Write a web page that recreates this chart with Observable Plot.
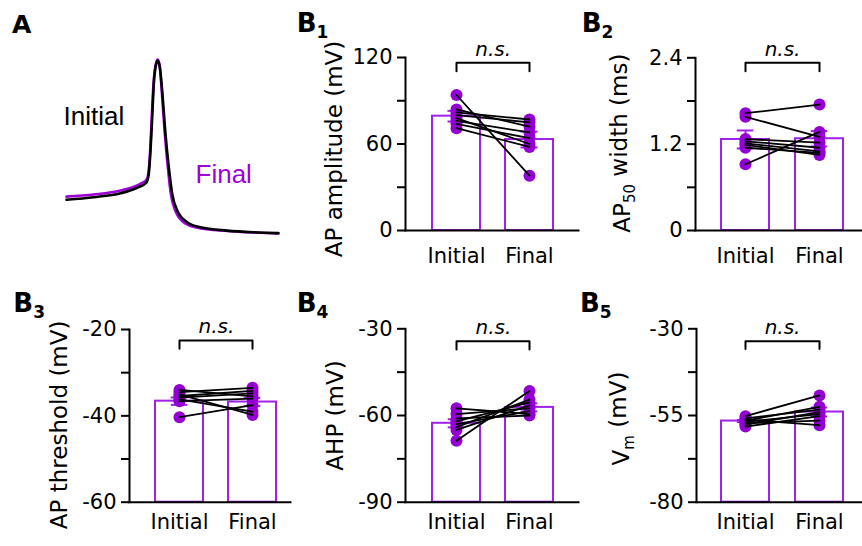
<!DOCTYPE html>
<html><head><meta charset="utf-8">
<script src="https://cdn.jsdelivr.net/npm/d3@7"></script>
<script src="https://cdn.jsdelivr.net/npm/@observablehq/plot@0.6"></script>
<style>
body{margin:0;background:#fff;}
#fig{position:relative;width:862px;height:546px;overflow:hidden;background:#fff;}
.panel{position:absolute;}
.lab{position:absolute;font-family:"DejaVu Sans";font-weight:bold;font-size:26px;line-height:26px;color:#000;white-space:nowrap;}
.lab sub{font-size:17px;vertical-align:-6px;line-height:0;}
</style></head><body><div id="fig"></div>
<script>
const conditions = ["Initial", "Final"];

// Panel A: representative AP traces (time in ms, voltage in mV)
const aTimeInitial = [0,2.55,5.05,6.6,7.48,7.69,7.85,8.01,8.16,8.35,8.53,8.72,8.94,9.25,9.56,9.88,10.35,11.28,12.52,15.02,17.5,19.8];
const aVoltInitial = [-46.3,-45.1,-43.2,-40.6,-38.0,-34.0,-22.9,-7.0,8.9,17.6,20.0,16.8,5.7,-14.9,-30.8,-43.5,-51.4,-57.0,-59.4,-61.0,-61.8,-62.2];
const aTimeFinal = [0,2.55,5.05,6.9,7.48,7.66,7.82,7.97,8.13,8.32,8.53,8.72,8.9,9.19,9.47,9.75,10.16,10.93,12.15,15.02,17.5,19.8];
const aVoltFinal = [-44.8,-43.8,-41.9,-38.7,-36.8,-33.3,-22.9,-7.0,8.9,17.6,20.5,17.1,5.7,-14.9,-30.8,-43.5,-51.4,-57.0,-59.5,-61.2,-61.9,-62.4];
const aLabelTime = [-0.28, 12.06];
const aLabelVolt = [-6.8, -34.3];

// B1 AP amplitude (mV)
const b1Initial = [94, 84, 82, 80, 78, 76, 74, 71];
const b1Final   = [38, 72, 77, 75, 60, 68, 64, 58];
const b1Mean = [79.3, 63.1], b1Sem = [3.7, 5.5];
const b1Ticks = [0, 30, 60, 90, 120], b1Labels = [0, 60, 120];
const b1Bracket = [116.3, 110.5];

// B2 AP50 width (ms)
const b2Initial = [1.63, 1.58, 1.27, 1.24, 1.21, 1.19, 1.15, 0.92];
const b2Final   = [1.75, 1.30, 1.22, 1.15, 1.10, 1.05, 1.08, 1.37];
const b2Mean = [1.265, 1.275], b2Sem = [0.125, 0.107];
const b2Ticks = [0, 0.6, 1.2, 1.8, 2.4], b2Labels = [0, 1.2, 2.4];
const b2Bracket = [2.33, 2.214];

// B3 AP threshold (mV)
const b3Initial = [-34.0, -34.5, -35.0, -35.4, -35.8, -36.2, -36.6, -40.3];
const b3Final   = [-35.5, -33.5, -39.8, -34.2, -34.8, -39.0, -36.0, -37.5];
const b3Mean = [-36.6, -36.8], b3Sem = [0.85, 0.95];
const b3Ticks = [-60, -50, -40, -30, -20], b3Labels = [-60, -40, -20];
const b3Bracket = [-22.55, -24.47];

// B4 AHP (mV)
const b4Initial = [-57.5, -59.5, -61, -62, -63, -64, -65, -68.7];
const b4Final   = [-59.5, -57.5, -60, -55.5, -58.5, -54.5, -56.5, -51.5];
const b4Mean = [-62.7, -57.2], b4Sem = [1.4, 1.4];
const b4Ticks = [-90, -75, -60, -45, -30], b4Labels = [-90, -60, -30];
const b4Bracket = [-34.3, -37.2];

// B5 Vm (mV)
const b5Initial = [-55.2, -55.8, -56.2, -56.5, -56.8, -57.2, -57.6, -58.2];
const b5Final   = [-49.2, -53.3, -57.8, -52.5, -54.6, -56.5, -54.0, -55.2];
const b5Mean = [-56.6, -54.0], b5Sem = [0.3, 1.3];
const b5Ticks = [-80, -67.5, -55, -42.5, -30], b5Labels = [-80, -55, -30];
const b5Bracket = [-33.6, -35.8];

const DOT = "#9400d3", BAR = "#a020e8", TRACE_F = "#a000d8";
const fig = document.getElementById("fig");

function place(el, left, top) {
  const wrap = document.createElement("div");
  wrap.className = "panel";
  wrap.style.left = left + "px";
  wrap.style.top = top + "px";
  wrap.appendChild(el);
  fig.appendChild(wrap);
}

function addSub(svg, full, parts) {
  d3.select(svg).selectAll("text").filter(function () { return this.textContent === full; })
    .each(function () {
      const t = d3.select(this);
      t.text(null);
      parts.forEach(([s, isSub], i) => {
        const ts = t.append("tspan").text(s);
        if (isSub) ts.attr("font-size", 15).attr("dy", "0.35em");
        else if (i > 0) ts.attr("dy", "-0.35em");
      });
    });
}

// Panel A
{
  const ini = aTimeInitial.map((t, i) => ({t, v: aVoltInitial[i]}));
  const fin = aTimeFinal.map((t, i) => ({t, v: aVoltFinal[i]}));
  const svg = Plot.plot({
    width: 290, height: 280,
    marginLeft: 66, marginRight: 10, marginTop: 55.8, marginBottom: 41.5,
    x: {domain: [0, 20], axis: null},
    y: {domain: [-65, 22], axis: null},
    style: {background: "transparent", overflow: "visible"},
    marks: [
      Plot.line(fin, {x: "t", y: "v", stroke: TRACE_F, strokeWidth: 2.6, curve: "monotone-x"}),
      Plot.line(ini, {x: "t", y: "v", stroke: "#000", strokeWidth: 2.6, curve: "monotone-x"}),
      Plot.text(["Initial"], {x: aLabelTime[0], y: aLabelVolt[0], text: d => d, textAnchor: "start", fill: "#000", fontSize: 26, fontFamily: "Liberation Sans"}),
      Plot.text(["Final"], {x: aLabelTime[1], y: aLabelVolt[1], text: d => d, textAnchor: "start", fill: TRACE_F, fontSize: 26, fontFamily: "Liberation Sans"})
    ]
  });
  place(svg, 0, 0);
}

function barPanel(c) {
  const pIn = 0.345;
  const step = (c.xRange[1] - c.xRange[0]) / (2 - pIn);
  const bw = step * (1 - pIn);
  const capInset = (bw - 17) / 2;
  const pts = c.initial.map((v, i) => ({cell: i, cond: "Initial", v}))
    .concat(c.final.map((v, i) => ({cell: i, cond: "Final", v})));
  const summ = conditions.map((cond, i) => ({cond, mean: c.mean[i], sem: c.sem[i]}));
  const br = [
    {cond: "Initial", y: c.bracket[1]}, {cond: "Initial", y: c.bracket[0]},
    {cond: "Final", y: c.bracket[0]}, {cond: "Final", y: c.bracket[1]}
  ];
  const yMin = c.yDomain[0];
  const svg = Plot.plot({
    width: c.width, height: c.height,
    marginLeft: c.marginLeft, marginRight: 0, marginTop: c.marginTop, marginBottom: c.height - c.axisY,
    x: {domain: conditions, range: c.xRange, paddingInner: pIn, paddingOuter: 0, axis: null},
    y: {domain: c.yDomain, axis: null},
    style: {background: "transparent", fontFamily: "DejaVu Sans", fontSize: "21px", overflow: "visible", color: "#000"},
    marks: [
      Plot.barY(summ, {x: "cond", y1: yMin, y2: "mean", fill: "white", stroke: BAR, strokeWidth: 2}),
      Plot.ruleX(summ, {x: "cond", y1: d => d.mean - d.sem, y2: d => d.mean + d.sem, stroke: BAR, strokeWidth: 2}),
      Plot.tickY(summ, {x: "cond", y: d => d.mean + d.sem, stroke: BAR, strokeWidth: 2, insetLeft: capInset, insetRight: capInset}),
      Plot.tickY(summ, {x: "cond", y: d => d.mean - d.sem, stroke: BAR, strokeWidth: 2, insetLeft: capInset, insetRight: capInset}),
      Plot.dot(pts, {x: "cond", y: "v", r: 6, fill: DOT, stroke: "none"}),
      Plot.line(pts, {x: "cond", y: "v", z: "cell", stroke: "#000", strokeWidth: 1.8}),
      Plot.frame({anchor: "left", stroke: "#000", strokeWidth: 2}),
      Plot.frame({anchor: "bottom", stroke: "#000", strokeWidth: 2}),
      Plot.axisY({ticks: c.ticks, tickFormat: d => c.labels.includes(d) ? String(d) : "", tickSize: 8, tickPadding: 5, strokeWidth: 2, label: null, fontSize: 21}),
      Plot.axisX({tickSize: 0, tickPadding: c.xPad, label: null, fontSize: 21}),
      Plot.line(br, {x: "cond", y: "y", stroke: "#000", strokeWidth: 2}),
      Plot.text(["n.s."], {x: () => "Initial", y: () => c.bracket[0], text: d => d, dx: step / 2, dy: -13.5, fontSize: 20, fontStyle: "italic", fill: "#000"}),
      Plot.text([c.label], {frameAnchor: "left", textAnchor: "middle", text: d => d, rotate: -90, dx: c.labelDx, dy: c.labelDy, fontSize: 23, fill: "#000"})
    ]
  });
  if (c.subs) addSub(svg, c.label, c.subs);
  place(svg, c.left, c.top);
}

barPanel({initial: b1Initial, final: b1Final, mean: b1Mean, sem: b1Sem, ticks: b1Ticks, labels: b1Labels, bracket: b1Bracket,
  yDomain: [0, 120], label: "AP amplitude (mV)", left: 290, top: 0, width: 288, height: 280,
  marginLeft: 115, marginTop: 57, axisY: 230, xRange: [141.7, 263], xPad: 18, labelDx: -71, labelDy: 5});
barPanel({initial: b2Initial, final: b2Final, mean: b2Mean, sem: b2Sem, ticks: b2Ticks, labels: b2Labels, bracket: b2Bracket,
  yDomain: [0, 2.4], label: "AP50 width (ms)", subs: [["AP", false], ["50", true], [" width (ms)", false]],
  left: 575, top: 0, width: 287, height: 280,
  marginLeft: 120, marginTop: 57.3, axisY: 230, xRange: [145.7, 268.3], xPad: 18, labelDx: -73, labelDy: -1});
barPanel({initial: b3Initial, final: b3Final, mean: b3Mean, sem: b3Sem, ticks: b3Ticks, labels: b3Labels, bracket: b3Bracket,
  yDomain: [-60, -20], label: "AP threshold (mV)", left: 0, top: 280, width: 290, height: 266,
  marginLeft: 129, marginTop: 49, axisY: 221.7, xRange: [154.3, 276.7], xPad: 11.5, labelDx: -70, labelDy: 9});
barPanel({initial: b4Initial, final: b4Final, mean: b4Mean, sem: b4Sem, ticks: b4Ticks, labels: b4Labels, bracket: b4Bracket,
  yDomain: [-90, -30], label: "AHP (mV)", left: 290, top: 280, width: 288, height: 266,
  marginLeft: 115, marginTop: 48.3, axisY: 221.7, xRange: [141, 263.3], xPad: 11.5, labelDx: -70, labelDy: 0});
barPanel({initial: b5Initial, final: b5Final, mean: b5Mean, sem: b5Sem, ticks: b5Ticks, labels: b5Labels, bracket: b5Bracket,
  yDomain: [-80, -30], label: "Vm (mV)", subs: [["V", false], ["m", true], [" (mV)", false]],
  left: 575, top: 280, width: 287, height: 266,
  marginLeft: 121, marginTop: 48.3, axisY: 221.7, xRange: [145.7, 268.3], xPad: 11.5, labelDx: -75, labelDy: 3});

// Panel letters
const letters = [
  {html: "A", left: 12, top: 12, size: 25},
  {html: "B<sub>1</sub>", left: 296.7, top: 9.7},
  {html: "B<sub>2</sub>", left: 581.7, top: 9.7},
  {html: "B<sub>3</sub>", left: 13.3, top: 289.7},
  {html: "B<sub>4</sub>", left: 296.7, top: 289.7},
  {html: "B<sub>5</sub>", left: 580, top: 289.7}
];
letters.forEach(l => {
  const d = document.createElement("div");
  d.className = "lab";
  d.innerHTML = l.html;
  d.style.left = l.left + "px";
  d.style.top = l.top + "px";
  if (l.size) { d.style.fontSize = l.size + "px"; d.style.lineHeight = l.size + "px"; }
  fig.appendChild(d);
});
</script></body></html>
